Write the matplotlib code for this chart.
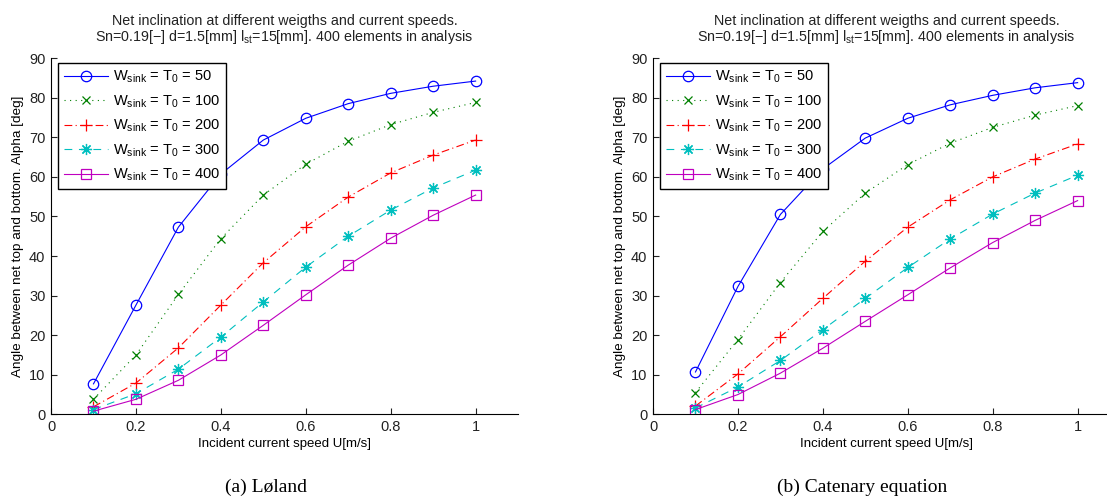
import matplotlib
matplotlib.use("Agg")
import matplotlib.pyplot as plt

plt.rcParams['font.family'] = ['Liberation Sans', 'DejaVu Sans']
plt.rcParams['mathtext.default'] = 'regular'

speed = [0.1, 0.2, 0.3, 0.4, 0.5, 0.6, 0.7, 0.8, 0.9, 1.0]
weights = [50, 100, 200, 300, 400]

# (a) Loland
loland_50 = [7.7, 27.6, 47.3, 60.7, 69.3, 74.8, 78.5, 81.1, 82.9, 84.2]
loland_100 = [3.8, 15.0, 30.3, 44.4, 55.4, 63.2, 69.0, 73.2, 76.3, 78.8]
loland_200 = [1.9, 7.9, 16.8, 27.6, 38.3, 47.4, 54.9, 61.0, 65.5, 69.3]
loland_300 = [1.2, 5.2, 11.4, 19.5, 28.4, 37.2, 45.0, 51.6, 57.2, 61.7]
loland_400 = [0.8, 3.8, 8.6, 15.0, 22.5, 30.2, 37.7, 44.5, 50.3, 55.4]

# (b) Catenary equation
cat_50 = [10.7, 32.3, 50.5, 62.0, 69.8, 74.8, 78.2, 80.6, 82.5, 83.8]
cat_100 = [5.5, 18.9, 33.3, 46.2, 55.9, 63.1, 68.5, 72.5, 75.6, 78.0]
cat_200 = [2.1, 10.2, 19.6, 29.3, 38.7, 47.3, 54.2, 60.0, 64.5, 68.3]
cat_300 = [1.6, 6.9, 13.6, 21.4, 29.3, 37.1, 44.3, 50.6, 55.9, 60.4]
cat_400 = [1.2, 5.0, 10.4, 16.7, 23.5, 30.2, 37.0, 43.4, 49.0, 54.0]

# matlab style b, g, r, c, m
styles = [
    dict(color=(0, 0, 1), ls='-', marker='o', ms=7.5, mfc='none'),
    dict(color=(0, 0.5, 0), ls=(0, (1, 4)), marker='x', ms=5.5),
    dict(color=(1, 0, 0), ls=(0, (7, 3, 1, 3)), marker='+', ms=8),
    dict(color=(0, 0.75, 0.75), ls=(0, (7, 6)), marker=(8, 2, 0), ms=8),
    dict(color=(0.75, 0, 0.75), ls='-', marker='s', ms=6.5, mfc='none'),
]

title = ('Net inclination at different weigths and current speeds.\n'
         'Sn=0.19[\u2212] d=1.5[mm] l$_{st}$=15[mm]. 400 elements in analysis')


def draw(ax, series):
    for w, vals, st in zip(weights, series, styles):
        ax.plot(speed, vals, lw=0.8, mew=0.9, label='W$_{sink}$ = T$_0$ = %d' % w, **st)
    ax.set_xlim(0, 1.1)
    ax.set_ylim(0, 90)
    ax.set_xticks([0, 0.2, 0.4, 0.6, 0.8, 1])
    ax.set_xticklabels(['0', '0.2', '0.4', '0.6', '0.8', '1'])
    ax.set_yticks(range(0, 91, 10))
    ax.spines['top'].set_visible(False)
    ax.spines['right'].set_visible(False)
    for s in ['left', 'bottom']:
        ax.spines[s].set_linewidth(0.8)
    ax.tick_params(direction='in', length=4, width=0.8, labelsize=10.5, pad=4,
                   colors='#222222')
    ax.set_title(title, fontsize=10.3, color='#222222', pad=12, linespacing=1.05)
    ax.set_xlabel('Incident current speed U[m/s]', fontsize=9.5, labelpad=3)
    ax.set_ylabel('Angle between net top and bottom. Alpha [deg]', fontsize=9.7, labelpad=4)
    leg = ax.legend(loc='upper left', bbox_to_anchor=(0.015, 0.986), borderaxespad=0,
                    fontsize=10.5, handlelength=3, handletextpad=0.4, labelspacing=0.55,
                    borderpad=0.4, fancybox=False, framealpha=1)
    leg.get_frame().set_edgecolor('black')
    leg.get_frame().set_linewidth(1.0)


fig = plt.figure(figsize=(11.07, 5.01), dpi=100)
ax1 = fig.add_axes([0.0461, 0.173, 0.4219, 0.711])
ax2 = fig.add_axes([0.5899, 0.173, 0.4219, 0.711])

draw(ax1, [loland_50, loland_100, loland_200, loland_300, loland_400])
draw(ax2, [cat_50, cat_100, cat_200, cat_300, cat_400])

fig.text(0.240, 0.028, '(a) Løland', ha='center', va='center',
         fontsize=14, family='Liberation Serif')
fig.text(0.779, 0.028, '(b) Catenary equation', ha='center', va='center',
         fontsize=14, family='Liberation Serif')

fig.savefig('out.png', dpi=100)
